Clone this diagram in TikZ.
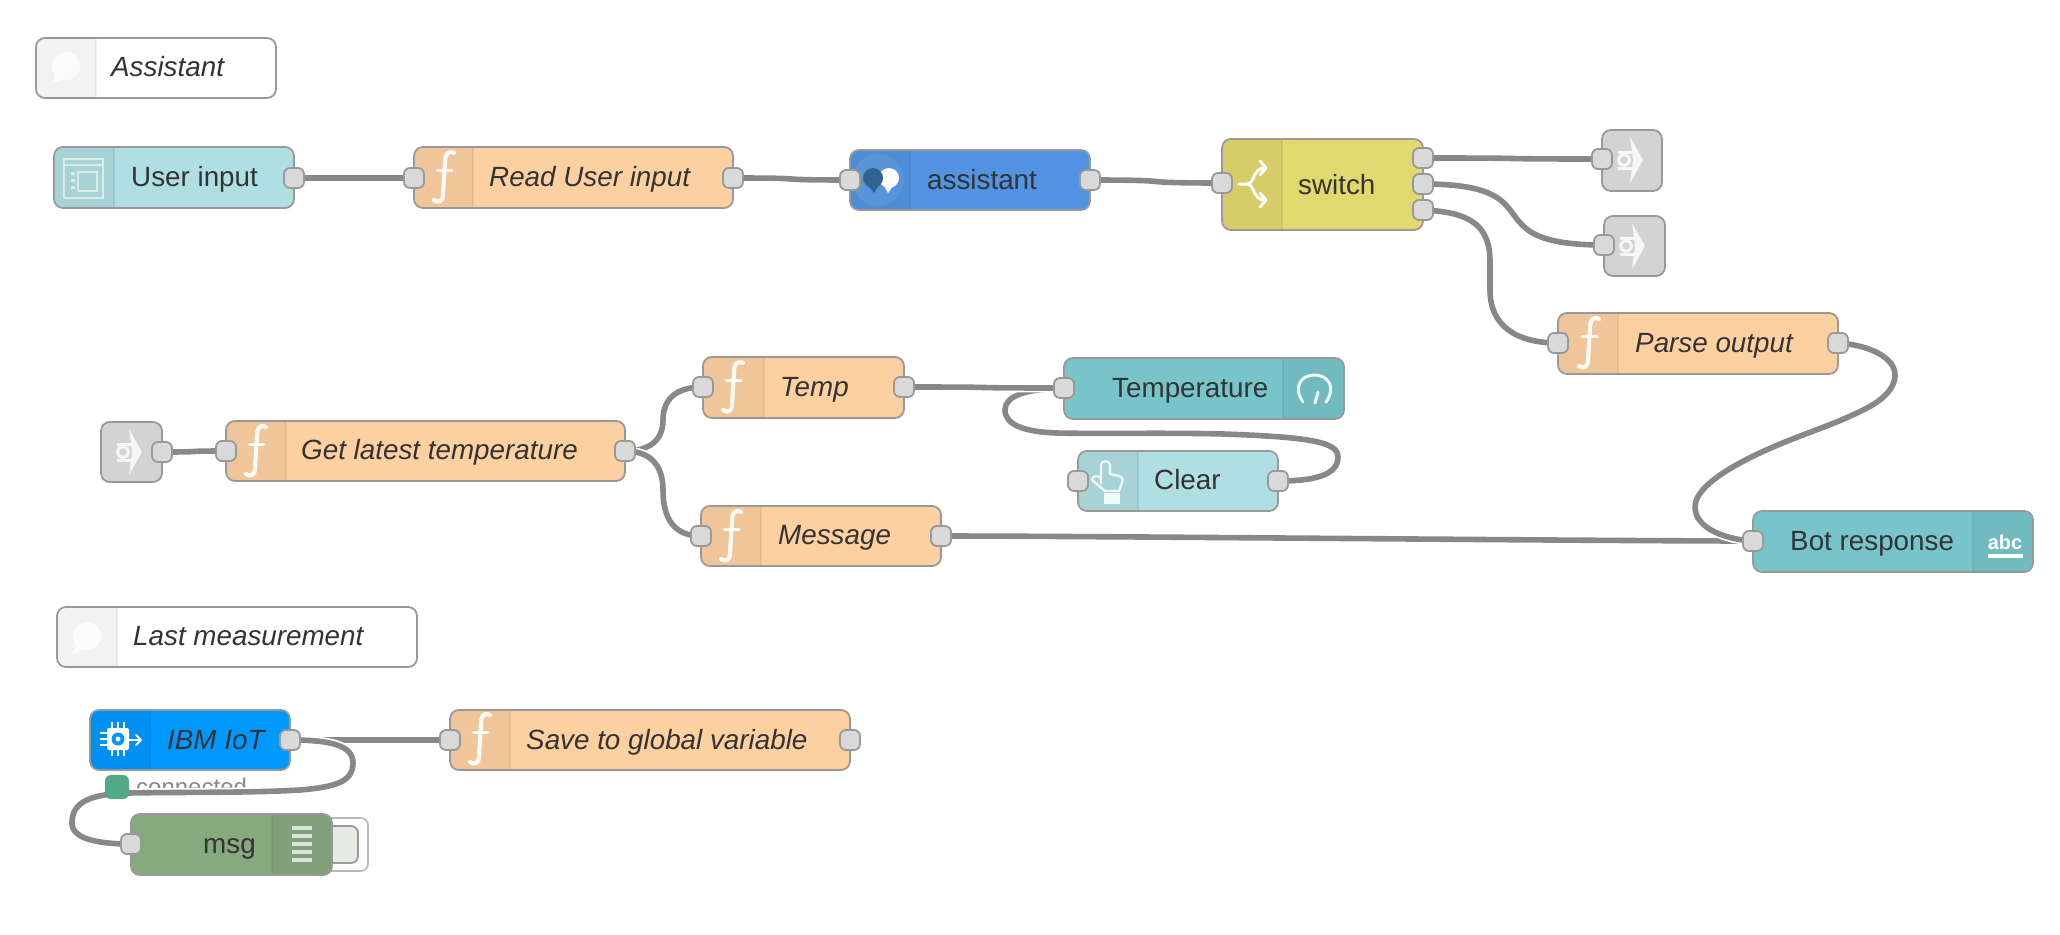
\documentclass[tikz,border=0pt]{standalone}
\usepackage{fontspec}
\setmainfont{Liberation Sans}
\pgfdeclarelayer{statustext}
\pgfdeclarelayer{wires}
\pgfsetlayers{statustext,wires,main}
\definecolor{fnfill}{HTML}{FDD0A2}
\definecolor{uilight}{HTML}{B0DFE3}
\definecolor{uidark}{HTML}{77C5CB}
\definecolor{asblue}{HTML}{5294E3}
\definecolor{asdark}{HTML}{2F6390}
\definecolor{swyellow}{HTML}{E2D96E}
\definecolor{linkgrey}{HTML}{D3D3D3}
\definecolor{iotblue}{HTML}{0098FF}
\definecolor{dbggreen}{HTML}{87A980}
\definecolor{dbgpale}{HTML}{E5EBE2}
\definecolor{stgreen}{HTML}{52A987}
\definecolor{edge}{HTML}{999999}
\definecolor{portfill}{HTML}{D9D9D9}
\definecolor{wiregrey}{HTML}{888888}
\definecolor{inkcol}{HTML}{333333}
\tikzset{
  nrbox/.style={draw=edge,line width=1.8pt,rounded corners=9pt,inner sep=0pt,outer sep=0pt,rectangle},
  portbox/.style={draw=edge,fill=portfill,line width=1.8pt,rounded corners=6pt,minimum size=20pt,inner sep=0pt,rectangle},
  nrtext/.style={anchor=base west,inner sep=0pt,text=inkcol,font=\fontsize{27.8}{30}\selectfont},
  nrital/.style={nrtext,font=\fontsize{27.8}{30}\selectfont\itshape},
  wireline/.style={draw=wiregrey,line width=5.6pt,preaction={draw=white,line width=9pt}},
  iconline/.style={draw=white,line width=3pt,line cap=round,line join=round},
  softline/.style={draw=white,draw opacity=.55,line width=2.2pt},
}
% name, x0,y0,x1,y1, bar edge x, divider x, fill
\newcommand{\nrnode}[8]{%
  \node[nrbox,fill=#8,minimum width={(#4-#2)*1pt},minimum height={(#5-#3)*1pt}] (#1) at ({(#2+#4)/2},{(#3+#5)/2}) {};
  \begin{scope}
    \clip[rounded corners=9pt] (#2+1,#3+1) rectangle (#4-1,#5-1);
    \fill[black,opacity=.05] (#6,#3) rectangle (#7,#5);
    \draw[black,opacity=.06,line width=1.4pt] (#7,#3) -- (#7,#5);
  \end{scope}
}
\newcommand{\nrgrey}[5]{%
  \node[nrbox,fill=linkgrey,minimum width={(#4-#2)*1pt},minimum height={(#5-#3)*1pt}] (#1) at ({(#2+#4)/2},{(#3+#5)/2}) {};
}
\newcommand{\nrport}[3]{\node[portbox] (#1) at (#2,#3) {};}
\newcommand{\nrwire}[3]{\draw[wireline] (#1.center) .. controls +(#3,0) and +(-#3,0) .. (#2.center);}
% function glyph, centre of the icon bar
\newcommand{\fglyph}[2]{%
  \begin{scope}[shift={(#1,#2)}]
    \draw[iconline,draw opacity=.9,line width=4.2pt] (10,-24) .. controls (4,-27) and (1,-23) .. (1,-15) -- (-1,17) .. controls (-1,25) and (-6,26) .. (-10,23);
    \draw[iconline,draw opacity=.9,line width=3pt] (-7,-7) -- (8,-7);
  \end{scope}}
\newcommand{\bubble}[2]{%
  \fill[white,opacity=.75] (#1,#2) circle (14);
  \fill[white,opacity=.75] (#1-10,#2+8) -- (#1-15,#2+18) -- (#1-1,#2+13) -- cycle;}
\newcommand{\linkglyph}[2]{%
  \begin{scope}[shift={(#1,#2)}]
    \fill[white,opacity=.8] (0,-23) -- (13,0) -- (0,23) -- (2,8) -- (3,0) -- (2,-8) -- cycle;
    \draw[white,opacity=.8,line width=3pt] (-6,0) circle (5.5);
    \draw[white,opacity=.8,line width=3pt] (-12,-8) -- (2,-8) (-12,8) -- (2,8);
  \end{scope}}
\begin{document}
\begin{tikzpicture}[x=1pt,y=-1pt]
\useasboundingbox (0,0) rectangle (2060,934);
\begin{pgfonlayer}{statustext}
\fill[white] (0,0) rectangle (2060,934);
\end{pgfonlayer}

% comments
\nrnode{cmA}{36}{38}{276}{98}{36}{96}{white}
\bubble{66}{66}
\node[nrital] (cmAt) at (111,76) {Assistant};
\nrnode{cmB}{57}{607}{417}{667}{57}{117}{white}
\bubble{87}{636}
\node[nrital] (cmBt) at (133,645) {Last measurement};

% User input
\nrnode{ui}{54}{147}{294}{208}{54}{114}{uilight}
\draw[softline] (64,159) rectangle (103,198);
\draw[softline] (64,165) -- (103,165);
\draw[softline] (78,172) rectangle (97,191);
\fill[white,opacity=.55] (71,172) rectangle (75,175) (71,179) rectangle (75,182) (71,186) rectangle (75,189);
\node[nrtext] (uit) at (131,186) {User input};
\nrport{uiO}{294}{178}

% Read User input
\nrnode{rd}{414}{147}{733}{208}{414}{473}{fnfill}
\fglyph{444}{177}
\node[nrital] (rdt) at (489,186) {Read User input};
\nrport{rdI}{414}{178}
\nrport{rdO}{733}{178}

% assistant
\nrnode{as}{850}{150}{1090}{210}{850}{910}{asblue}
\fill[white,opacity=.07] (878,180) circle (26);
\fill[white] (889,178) circle (10);
\fill[white] (883,184) -- (888,193) -- (893,186) -- cycle;
\fill[asdark] (873,178) circle (10);
\fill[asdark] (868,185) -- (874,193) -- (879,185) -- cycle;
\node[nrtext] (ast) at (927,189) {assistant};
\nrport{asI}{850}{180}
\nrport{asO}{1090}{180}

% switch
\nrnode{sw}{1222}{139}{1423}{230}{1222}{1282}{swyellow}
\draw[iconline] (1239,184) -- (1247,184) .. controls (1255,184) and (1252,168) .. (1265,168);
\draw[iconline] (1247,184) .. controls (1255,184) and (1252,200) .. (1265,200);
\draw[iconline] (1260,161) -- (1266,168) -- (1260,175);
\draw[iconline] (1260,193) -- (1266,200) -- (1260,207);
\node[nrtext] (swt) at (1298,194) {switch};
\nrport{swI}{1222}{183}
\nrport{swA}{1423}{158}
\nrport{swB}{1423}{184}
\nrport{swC}{1423}{210}

% link nodes
\nrgrey{lkA}{1602}{130}{1662}{191}
\linkglyph{1630}{160}
\nrport{lkAi}{1602}{159}
\nrgrey{lkB}{1604}{216}{1665}{276}
\linkglyph{1632}{246}
\nrport{lkBi}{1604}{245}
\nrgrey{lkC}{101}{422}{162}{482}
\linkglyph{129}{452}
\nrport{lkCo}{162}{452}

% Parse output
\nrnode{pa}{1558}{313}{1838}{374}{1558}{1618}{fnfill}
\fglyph{1589}{343}
\node[nrital] (pat) at (1635,352) {Parse output};
\nrport{paI}{1558}{343}
\nrport{paO}{1838}{343}

% Get latest temperature
\nrnode{gl}{226}{421}{625}{481}{226}{286}{fnfill}
\fglyph{256}{451}
\node[nrital] (glt) at (301,459) {Get latest temperature};
\nrport{glI}{226}{451}
\nrport{glO}{625}{451}

% Temp
\nrnode{tp}{703}{357}{904}{418}{703}{764}{fnfill}
\fglyph{733}{387}
\node[nrital] (tpt) at (780,396) {Temp};
\nrport{tpI}{703}{387}
\nrport{tpO}{904}{387}

% Message
\nrnode{ms}{701}{506}{941}{566}{701}{761}{fnfill}
\fglyph{731}{536}
\node[nrital] (mst) at (778,544) {Message};
\nrport{msI}{701}{536}
\nrport{msO}{941}{536}

% Temperature gauge
\nrnode{tm}{1064}{358}{1344}{419}{1344}{1283}{uidark}
\draw[iconline,draw opacity=.9] (1303,402) .. controls (1293,388) and (1300,375) .. (1314.5,375) .. controls (1329,375) and (1336,388) .. (1326,402);
\draw[iconline,draw opacity=.9] (1315,403) -- (1318,392);
\node[nrtext] (tmt) at (1112,397) {Temperature};
\nrport{tmI}{1064}{388}

% Clear
\nrnode{cl}{1078}{451}{1278}{511}{1078}{1138}{uilight}
\draw[white,draw opacity=.85,line width=2.2pt,line join=round] (1101,484) -- (1101,465) .. controls (1101,460) and (1110,460) .. (1110,465) -- (1110,474) -- (1119,476) .. controls (1123,477) and (1123,480) .. (1122,483) -- (1119,491) -- (1105,491) -- (1092,480) .. controls (1092,476) and (1097,475) .. (1101,478);
\fill[white,opacity=.85] (1104,493) rectangle (1120,504);
\node[nrtext] (clt) at (1154,489) {Clear};
\nrport{clI}{1078}{481}
\nrport{clO}{1278}{481}

% Bot response
\nrnode{bo}{1753}{511}{2033}{572}{2033}{1973}{uidark}
\node[anchor=base,inner sep=0pt,text=white,font=\fontsize{20}{22}\selectfont\bfseries] (bot2) at (2005,549) {abc};
\fill[white] (1988,554) rectangle (2023,558);
\node[nrtext] (bot) at (1790,550) {Bot response};
\nrport{boI}{1753}{541}

% IBM IoT
\nrnode{io}{90}{710}{290}{770}{90}{150}{iotblue}
\begin{scope}[shift={(118,739)}]
  \fill[white,rounded corners=2pt] (-11,-11) rectangle (11,11);
  \foreach \k in {-6,0,6} {
    \draw[white,line width=2pt] (\k,-17) -- (\k,17);
    \draw[white,line width=2pt] (-18,\k) -- (0,\k);
  }
  \fill[iotblue] (0,0) circle (6.5);
  \fill[white] (0,0) circle (2.5);
  \draw[white,line width=2pt,line cap=round,line join=round] (11,1) -- (22,1);
  \draw[white,line width=2pt,line cap=round,line join=round] (18,-4) -- (23,1) -- (18,6);
\end{scope}
\node[nrital] (iot) at (167,749) {IBM IoT};
\nrport{ioO}{290}{740}

% status
\begin{pgfonlayer}{statustext}
\node[anchor=base west,inner sep=0pt,text=wiregrey,font=\fontsize{24}{26}\selectfont] (stt) at (136,795) {connected};
\end{pgfonlayer}
\fill[stgreen,rounded corners=6pt] (105,775) rectangle (129,799);

% Save to global variable
\nrnode{sv}{450}{710}{850}{770}{450}{510}{fnfill}
\fglyph{480}{739}
\node[nrital] (svt) at (526,749) {Save to global variable};
\nrport{svI}{450}{740}
\nrport{svO}{850}{740}

% msg
\node[draw=edge!70,fill=white,line width=1.6pt,rounded corners=7pt,minimum width=56pt,minimum height=53pt,inner sep=0pt] (dbgO) at (340,844.5) {};
\node[draw=edge,fill=dbgpale,line width=1.8pt,rounded corners=7pt,minimum width=36pt,minimum height=37pt,inner sep=0pt] (dbgI) at (340,844.5) {};
\nrnode{dg}{131}{814}{332}{875}{332}{272}{dbggreen}
\foreach \k in {828,836,844,852,860} {\fill[white,opacity=.7] (292,\k-1.6) rectangle (312,\k+1.6);}
\node[nrtext] (dgt) at (203,853) {msg};
\nrport{dgI}{131}{844}

% wires
\begin{pgfonlayer}{wires}
\nrwire{uiO}{rdI}{90}
\nrwire{rdO}{asI}{88}
\nrwire{asO}{swI}{99}
\nrwire{swA}{lkAi}{134}
\nrwire{swB}{lkBi}{136}
\draw[wireline] (swC.center) .. controls (1470,212) and (1490,225) .. (1490,262) -- (1490,290) .. controls (1490,325) and (1515,343) .. (paI.center);
\nrwire{msO}{boI}{150}
\draw[wireline] (paO.center) .. controls (1870,345) and (1895,358) .. (1895,375) .. controls (1895,392) and (1875,404) .. (1867,408) .. controls (1840,422) and (1815,430) .. (1790,440) .. controls (1760,452) and (1695,480) .. (1695,507) .. controls (1695,530) and (1730,540) .. (boI.center);
\draw[wireline] (clO.center) .. controls (1315,481) and (1338,475) .. (1338,457) .. controls (1338,442) and (1310,437) .. (1223,434) .. controls (1170,432.5) and (1100,434) .. (1057,433) .. controls (1025,432) and (1005,425) .. (1005,410) .. controls (1005,396) and (1025,389) .. (tmI.center);
\nrwire{tpO}{tmI}{120}
\nrwire{lkCo}{glI}{48}
\draw[wireline] (glO.center) .. controls (650,451) and (663,440) .. (663,420) .. controls (663,400) and (675,387) .. (tpI.center);
\draw[wireline] (glO.center) .. controls (650,451) and (663,465) .. (663,490) .. controls (663,520) and (675,536) .. (msI.center);
\nrwire{ioO}{svI}{120}
\draw[wireline] (ioO.center) .. controls (330,740) and (353,745) .. (353,763) .. controls (353,782) and (335,787) .. (300,790) .. controls (250,793) and (180,792) .. (129,793) .. controls (90,794) and (72,802) .. (72,823) .. controls (72,838) and (95,844) .. (dgI.center);
\end{pgfonlayer}
\end{tikzpicture}
\end{document}
